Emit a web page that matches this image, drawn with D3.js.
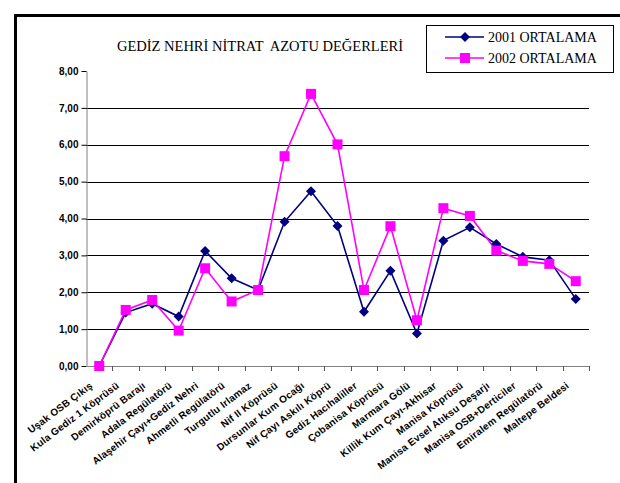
<!DOCTYPE html>
<html>
<head>
<meta charset="utf-8">
<script src="https://cdn.jsdelivr.net/npm/d3@7"></script>
<style>
  body { margin: 0; background: #fff; }
  svg { display: block; }
</style>
</head>
<body>
<div id="chart"></div>
<script>
const istasyonlar = [
  "Uşak OSB Çıkış", "Kula Gediz 1 Köprüsü", "Demirköprü Barajı", "Adala Regülatörü",
  "Alaşehir Çayı+Gediz Nehri", "Ahmetli Regülatörü", "Turgutlu Irlamaz", "Nif II Köprüsü",
  "Dursunlar Kum Ocağı", "Nif Çayı Askılı Köprü", "Gediz Hacıhaliller", "Çobanisa Köprüsü",
  "Marmara Gölü", "Killik Kum Çayı-Akhisar", "Manisa Köprüsü", "Manisa Evsel Atıksu Deşarjı",
  "Manisa OSB+Derticiler", "Emiralem Regülatörü", "Maltepe Beldesi"
];
const ort2001 = [0, 1.45, 1.69, 1.34, 3.12, 2.38, 2.06, 3.91, 4.74, 3.80, 1.47, 2.58, 0.88, 3.40, 3.76, 3.31, 2.96, 2.87, 1.82];
const ort2002 = [0, 1.52, 1.79, 0.96, 2.65, 1.75, 2.06, 5.69, 7.38, 6.01, 2.06, 3.79, 1.24, 4.28, 4.07, 3.13, 2.85, 2.77, 2.30];
const yTicks = [0, 1, 2, 3, 4, 5, 6, 7, 8];
const seriler = [
  { ad: "2001 ORTALAMA", degerler: ort2001, renk: "#000080", isaret: "diamond" },
  { ad: "2002 ORTALAMA", degerler: ort2002, renk: "#FF00FF", isaret: "square" }
];

const width = 620, height = 483;
const plot = { left: 86, right: 589, top: 71, bottom: 366 };

const svg = d3.select("#chart").append("svg")
  .attr("width", width).attr("height", height);

// dış çerçeve
svg.append("rect")
  .attr("x", 15.5).attr("y", 15.5)
  .attr("width", 640).attr("height", 500)
  .attr("fill", "none").attr("stroke", "#000").attr("stroke-width", 3);

const x = d3.scaleBand().domain(istasyonlar).range([plot.left, plot.right]);
const y = d3.scaleLinear().domain([0, 8]).range([plot.bottom, plot.top]);
const fmt = v => d3.format(".2f")(v).replace(".", ",");

// yatay çizgiler
svg.append("g")
  .selectAll("line")
  .data(yTicks.filter(d => d > 0 && d < 8))
  .join("line")
  .attr("x1", plot.left).attr("x2", plot.right)
  .attr("y1", d => Math.round(y(d)) + 0.5).attr("y2", d => Math.round(y(d)) + 0.5)
  .attr("stroke", "#000").attr("stroke-width", 1);

// y ekseni
const yAxis = svg.append("g")
  .attr("transform", `translate(${plot.left + 0.5},0)`)
  .call(d3.axisLeft(y).tickValues(yTicks).tickFormat(fmt).tickSize(5).tickSizeOuter(0));
yAxis.select(".domain").attr("stroke", "#808080");
yAxis.selectAll(".tick line").attr("stroke", "#000");
yAxis.selectAll("text")
  .attr("x", -8)
  .style("font-family", "'Liberation Sans', Arial, sans-serif")
  .style("font-size", "10px").style("font-weight", "bold").attr("fill", "#000");

// x ekseni
const bolmeler = istasyonlar.map((d, i) => plot.left + x.step() * (i + 1));
const xAxis = svg.append("g");
xAxis.append("line")
  .attr("x1", plot.left).attr("x2", plot.right)
  .attr("y1", plot.bottom + 0.5).attr("y2", plot.bottom + 0.5)
  .attr("stroke", "#808080");
xAxis.selectAll(".tk")
  .data(bolmeler)
  .join("line")
  .attr("class", "tk")
  .attr("x1", d => Math.round(d) + 0.5).attr("x2", d => Math.round(d) + 0.5)
  .attr("y1", plot.bottom).attr("y2", plot.bottom + 5)
  .attr("stroke", "#555");
xAxis.selectAll("text")
  .data(istasyonlar)
  .join("text")
  .attr("transform", d => `translate(${x(d) + x.bandwidth() / 2 - 6},${plot.bottom + 21}) rotate(-37)`)
  .attr("text-anchor", "end")
  .style("font-family", "'Liberation Sans', Arial, sans-serif")
  .style("font-size", "10px").style("font-weight", "bold")
  .style("letter-spacing", "0.2px")
  .attr("fill", "#000")
  .text(d => d);

// seriler
const cx = (d, i) => x(istasyonlar[i]) + x.bandwidth() / 2;
const line = d3.line().x((d, i) => cx(d, i)).y(d => y(d));

seriler.forEach(s => {
  svg.append("path")
    .datum(s.degerler)
    .attr("d", line)
    .attr("fill", "none")
    .attr("stroke", s.renk)
    .attr("stroke-width", 1.6);
});

function isaretCiz(g, s, px, py) {
  if (s.isaret === "diamond") {
    g.append("path")
      .attr("d", `M${px},${py - 5}L${px + 5},${py}L${px},${py + 5}L${px - 5},${py}Z`)
      .attr("fill", s.renk);
  } else {
    g.append("rect")
      .attr("x", px - 5).attr("y", py - 5)
      .attr("width", 10).attr("height", 10)
      .attr("fill", s.renk);
  }
}

seriler.forEach(s => {
  const g = svg.append("g");
  s.degerler.forEach((v, i) => isaretCiz(g, s, cx(v, i), y(v)));
});

// başlık
svg.append("text")
  .attr("x", 260).attr("y", 51)
  .attr("text-anchor", "middle")
  .style("font-family", "'Liberation Serif', 'Times New Roman', serif")
  .style("font-size", "14.5px")
  .attr("fill", "#000")
  .attr("xml:space", "preserve")
  .text("GEDİZ NEHRİ NİTRAT  AZOTU DEĞERLERİ");

// lejant
const lg = svg.append("g");
lg.append("rect")
  .attr("x", 426.5).attr("y", 25.5)
  .attr("width", 187).attr("height", 47)
  .attr("fill", "#fff").attr("stroke", "#000");
seriler.forEach((s, i) => {
  const ly = 37 + i * 21;
  lg.append("line")
    .attr("x1", 445).attr("x2", 484)
    .attr("y1", ly).attr("y2", ly)
    .attr("stroke", s.renk).attr("stroke-width", 1.6);
  isaretCiz(lg, s, 465, ly);
  lg.append("text")
    .attr("x", 488).attr("y", ly + 4.5)
    .style("font-family", "'Liberation Serif', 'Times New Roman', serif")
    .style("font-size", "14px")
    .attr("fill", "#000")
    .text(s.ad);
});
</script>
</body>
</html>
